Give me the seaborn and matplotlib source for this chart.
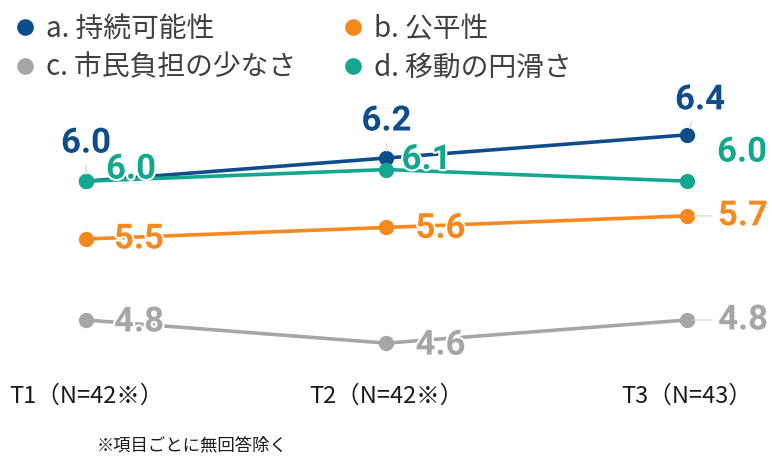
import matplotlib
matplotlib.use("Agg")
import matplotlib.pyplot as plt
import matplotlib.patheffects as pe
from matplotlib.lines import Line2D
import seaborn as sns
import pandas as pd

# ---- data ----
periods = ["T1（N=42※）", "T2（N=42※）", "T3（N=43）"]
series_names = ["a. 持続可能性", "b. 公平性", "c. 市民負担の少なさ", "d. 移動の円滑さ"]
vals_a = [6.0, 6.2, 6.4]
vals_b = [5.5, 5.6, 5.7]
vals_c = [4.8, 4.6, 4.8]
vals_d = [6.0, 6.1, 6.0]
footnote = "※項目ごとに無回答除く"

colors = ["#0F4C8C", "#F7891C", "#A6A6A6", "#13A78F"]

sns.set_theme(style="white")
plt.rcParams["font.family"] = ["Noto Sans CJK JP", "DejaVu Sans"]

rows = []
for name, vals in zip(series_names, [vals_a, vals_b, vals_c, vals_d]):
    for i, v in enumerate(vals):
        rows.append({"x": i, "period": periods[i], "series": name, "value": v})
df = pd.DataFrame(rows)

fig = plt.figure(figsize=(7.72, 4.58), dpi=100)
W, H = 772, 458
ax = fig.add_axes([0, 1 - 365 / H, 1, (365 - 60) / H])

sns.lineplot(data=df, x="x", y="value", hue="series", hue_order=series_names,
             palette=colors, marker="o", markersize=11, markeredgewidth=0,
             linewidth=2.6, legend=False, ax=ax)

# px per unit
px_x = 300.5
px_y = 115.7
ax.set_xlim(-86 / px_x, 2 + (W - 687) / px_x)
ax.set_ylim(5.5 - (365 - 239) / px_y, 5.5 + (239 - 60) / px_y)

ax.set_xticks(range(len(periods)))
ax.set_xticklabels(periods, fontsize=17, color="#1a1a1a")
ax.tick_params(axis="x", length=0, pad=14)
ax.set_yticks([])
ax.set_xlabel("")
ax.set_ylabel("")
for s in ax.spines.values():
    s.set_visible(False)

# label offsets (pixels) per series/point, and whether to draw a leader line
offsets = [
    [(0, 38), (0, 37), (13, 35)],
    [(53, 0), (54, -1), (56, 0)],
    [(53, -2), (54, -2), (56, 0)],
    [(45, 12), (40, 10), (55, 29)],
]
leaders = [
    [True, True, True],
    [False, False, True],
    [False, False, True],
    [False, False, False],
]
label_font = ["Roboto", "Noto Sans CJK JP"]
for si, vals in enumerate([vals_a, vals_b, vals_c, vals_d]):
    for i, v in enumerate(vals):
        dx, dy = offsets[si][i]
        ap = dict(arrowstyle="-", color="#d9d9d9", lw=1, shrinkA=2, shrinkB=5) if leaders[si][i] else None
        t = ax.annotate(f"{v:.1f}", xy=(i, v), xytext=(dx, dy), textcoords="offset pixels",
                        ha="center", va="center", fontsize=25, fontweight="bold",
                        family=label_font, color=colors[si], arrowprops=ap, zorder=5)
        t.set_path_effects([pe.withStroke(linewidth=3, foreground="white")])

# legend
handles = [Line2D([], [], linestyle="none", marker="o", markersize=12,
                  markerfacecolor=c, markeredgewidth=0) for c in colors]
order = [0, 2, 1, 3]
leg = fig.legend([handles[k] for k in order], [series_names[k] for k in order],
                 ncol=2, loc="upper left", bbox_to_anchor=(0.0, 0.994), frameon=False,
                 fontsize=20, handletextpad=0.25, columnspacing=1.55, labelspacing=0.31,
                 handlelength=1.0, borderaxespad=0.0, borderpad=0.4)
for t in leg.get_texts():
    t.set_color("#404040")

fig.text(97 / W, 1 - 445 / H, footnote, fontsize=12.5, color="#1a1a1a", va="center", ha="left")

fig.savefig("out.png", dpi=100)
